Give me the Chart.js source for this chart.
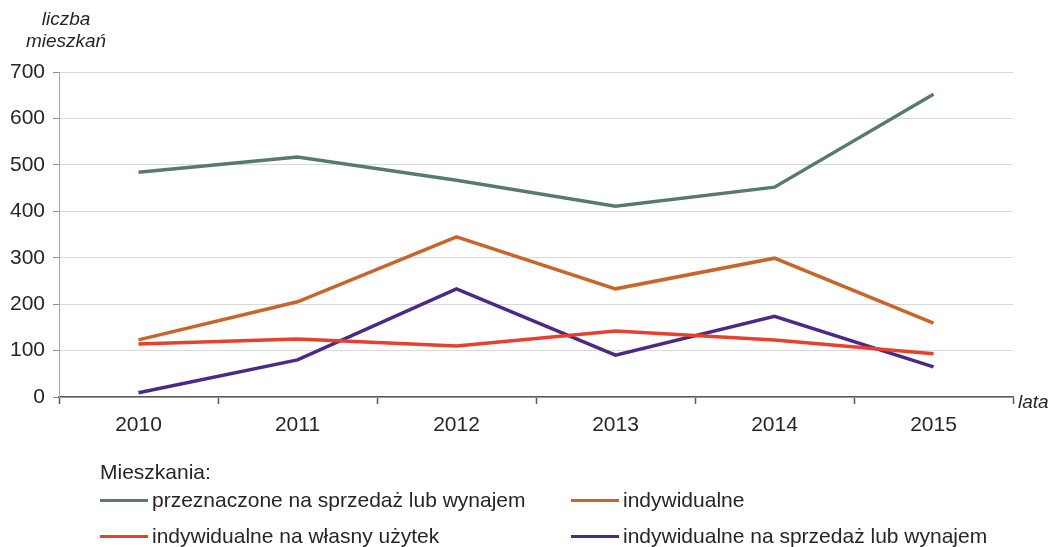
<!DOCTYPE html>
<html>
<head>
<meta charset="utf-8">
<script src="https://cdn.jsdelivr.net/npm/chart.js@4"></script>
<style>
  body { margin: 0; background: #fff; font-family: "Liberation Sans", Arial, sans-serif; color: #262626; }
  #wrap { position: relative; width: 1053px; height: 547px; }
  #wykres { position: absolute; left: 0; top: 0; }
  .os { position: absolute; font-style: italic; font-size: 19px; color: #262626; }
  #osY { left: 16px; top: 8px; width: 100px; text-align: center; line-height: 22px; }
  #osX { left: 1018px; top: 391px; }
  #legenda { position: absolute; left: 100px; top: 458px; font-size: 21px; }
  #legenda .tytul { height: 24px; line-height: 28px; }
  #legenda .wiersz { display: flex; height: 36px; align-items: center; }
  #legenda .poz { display: flex; align-items: center; width: 471px; }
  #legenda .kreska { width: 48px; height: 3px; margin-right: 4px; }
</style>
</head>
<body>
<div id="wrap">
  <canvas id="wykres" width="1053" height="547"></canvas>
  <div class="os" id="osY">liczba<br>mieszkań</div>
  <div class="os" id="osX">lata</div>
  <div id="legenda"></div>
</div>
<script>
document.addEventListener('DOMContentLoaded', (event) => {
    const lata = ['2010', '2011', '2012', '2013', '2014', '2015'];
    const przeznaczone = [484, 517, 467, 411, 452, 652];
    const indywidualne = [123, 205, 345, 233, 299, 159];
    const indywWlasny = [114, 125, 110, 142, 123, 93];
    const indywSprzedaz = [9, 80, 233, 90, 174, 65];

    const nazwy = [
        'przeznaczone na sprzedaż lub wynajem',
        'indywidualne',
        'indywidualne na własny użytek',
        'indywidualne na sprzedaż lub wynajem'
    ];
    const kolory = ['#587a6d', '#c9652b', '#e8402c', '#4a2a86'];
    const serie = [przeznaczone, indywidualne, indywWlasny, indywSprzedaz];

    const ctx = document.getElementById('wykres').getContext('2d');

    const chart = new Chart(ctx, {
        type: 'line',
        data: {
            labels: lata,
            datasets: serie.map((dane, i) => ({
                label: nazwy[i],
                data: dane,
                borderColor: kolory[i],
                borderWidth: 3.5,
                pointRadius: 0,
                tension: 0,
                fill: false
            }))
        },
        options: {
            responsive: false,
            animation: false,
            layout: {
                padding: { left: 0, top: 72, right: 40, bottom: 105 }
            },
            plugins: {
                legend: { display: false },
                tooltip: { enabled: false }
            },
            scales: {
                x: {
                    offset: true,
                    grid: {
                        offset: true,
                        drawOnChartArea: false,
                        drawTicks: true,
                        tickLength: 7,
                        tickColor: '#595959',
                        tickWidth: 1.5
                    },
                    border: { color: '#595959', width: 1.5 },
                    ticks: {
                        color: '#262626',
                        padding: 9,
                        font: { family: 'Liberation Sans', size: 21 }
                    },
                    afterFit: (scale) => { scale.height = 45; }
                },
                y: {
                    min: 0,
                    max: 700,
                    ticks: {
                        stepSize: 100,
                        color: '#262626',
                        padding: 8,
                        font: { family: 'Liberation Sans', size: 21 }
                    },
                    grid: {
                        color: '#d9d9d9',
                        lineWidth: 1,
                        tickLength: 6,
                        tickColor: '#8c8c8c'
                    },
                    border: { color: '#a6a6a6', width: 1 },
                    afterFit: (scale) => { scale.width = 59; }
                }
            }
        }
    });

    // legenda 2x2 z tytułem
    const leg = document.getElementById('legenda');
    let html = '<div class="tytul">Mieszkania:</div>';
    const ds = chart.data.datasets;
    for (let r = 0; r < ds.length; r += 2) {
        html += '<div class="wiersz">';
        for (let c = r; c < r + 2 && c < ds.length; c++) {
            html += '<div class="poz"><span class="kreska" style="background:' + ds[c].borderColor +
                '"></span><span>' + ds[c].label + '</span></div>';
        }
        html += '</div>';
    }
    leg.innerHTML = html;
});
</script>
</body>
</html>
